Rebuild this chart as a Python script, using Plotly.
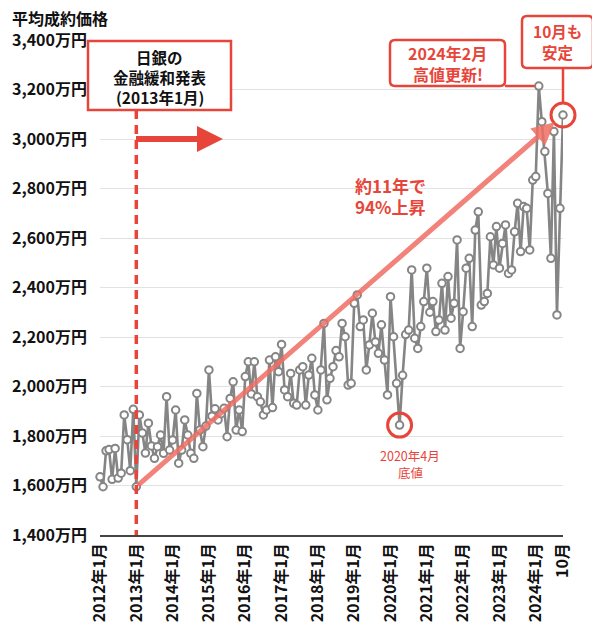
import plotly.graph_objects as go

# ---------------- data ----------------
tick_labels = ["2012年1月", "2013年1月", "2014年1月", "2015年1月", "2016年1月",
               "2017年1月", "2018年1月", "2019年1月", "2020年1月", "2021年1月",
               "2022年1月", "2023年1月", "2024年1月", "10月"]
tick_index = [0, 12, 24, 36, 48, 60, 72, 84, 96, 108, 120, 132, 144, 153]

y_ticks = [1400, 1600, 1800, 2000, 2200, 2400, 2600, 2800, 3000, 3200, 3400]
y_tick_text = [f"{v:,}万円" for v in y_ticks]

p2012 = [1635, 1595, 1740, 1745, 1625, 1750, 1630, 1650, 1885, 1785, 1660, 1908]
p2013 = [1595, 1885, 1812, 1731, 1852, 1760, 1710, 1757, 1804, 1730, 1959, 1743]
p2014 = [1784, 1905, 1690, 1743, 1865, 1804, 1730, 1710, 1972, 1824, 1757, 1840]
p2015 = [2067, 1880, 1910, 1865, 1890, 1912, 1797, 1952, 2019, 1824, 1905, 1818]
p2016 = [2040, 2100, 1970, 2100, 1959, 1938, 1885, 1905, 2107, 1915, 2120, 2060]
p2017 = [2170, 1986, 1959, 2053, 1932, 1925, 2067, 2080, 1925, 2046, 2114, 1966]
p2018 = [1905, 2067, 2255, 1946, 2033, 2080, 2145, 2120, 2255, 2201, 2006, 2013]
p2019 = [2336, 2370, 2242, 2269, 2067, 2168, 2296, 2180, 2134, 2249, 2107, 1966]
p2020 = [2363, 2201, 2013, 1844, 2045, 2210, 2228, 2471, 2195, 2154, 2242, 2343]
p2021 = [2478, 2300, 2343, 2222, 2269, 2417, 2228, 2444, 2276, 2336, 2592, 2154]
p2022 = [2302, 2478, 2518, 2242, 2632, 2706, 2329, 2343, 2376, 2605, 2491, 2646]
p2023 = [2478, 2578, 2653, 2457, 2471, 2625, 2740, 2545, 2727, 2720, 2552, 2834]
p2024 = [2848, 3214, 3070, 2949, 2780, 2518, 3030, 2289, 2720, 3097]

prices = p2012 + p2013 + p2014 + p2015 + p2016 + p2017 + p2018 + p2019 + \
    p2020 + p2021 + p2022 + p2023 + p2024
months = list(range(len(prices)))

i_boj = 12       # 2013年1月
i_low = 99       # 2020年4月
i_high = 145     # 2024年2月
i_last = len(prices) - 1   # 2024年10月

# ---------------- layout helpers ----------------
# page has an 8px body margin; figure is sized so page coords match the reference
OFF = 8
W, H = 600 - 2 * OFF, 637 - 2 * OFF
L_REF, T_REF, PW, PH = 100, 40, 463, 495
L, T = L_REF - OFF, T_REF - OFF
XMAX = i_last
RED = "#e8453a"
GRAY = "#858585"
FONT = "Noto Sans CJK JP"


def ppx(px):
    return (px - L_REF) / PW


def ppy(py):
    return (T_REF + PH - py) / PH


def dx(i):
    return i / XMAX


def dy(v):
    return (v - 1400) / 2000


def pt(px, py):
    return f"{ppx(px):.5f},{ppy(py):.5f}"


def rrect(x0, y0, x1, y1, r):
    return ("M " + pt(x0 + r, y0) + " L " + pt(x1 - r, y0) +
            " Q " + pt(x1, y0) + " " + pt(x1, y0 + r) +
            " L " + pt(x1, y1 - r) +
            " Q " + pt(x1, y1) + " " + pt(x1 - r, y1) +
            " L " + pt(x0 + r, y1) +
            " Q " + pt(x0, y1) + " " + pt(x0, y1 - r) +
            " L " + pt(x0, y0 + r) +
            " Q " + pt(x0, y0) + " " + pt(x0 + r, y0) + " Z")


fig = go.Figure()

fig.add_trace(go.Scatter(
    x=months, y=prices, mode="lines+markers",
    line=dict(color=GRAY, width=2.6),
    marker=dict(size=7.5, color="white", line=dict(color=GRAY, width=2)),
    cliponaxis=False, hoverinfo="skip", showlegend=False))

shapes = []
# dashed vertical line at 2013-01
shapes.append(dict(type="line", xref="paper", yref="paper",
                   x0=dx(i_boj), x1=dx(i_boj), y0=ppy(110), y1=0,
                   line=dict(color=RED, width=3.5, dash="9px,6px"), layer="above"))
# BOJ box
shapes.append(dict(type="rect", xref="paper", yref="paper",
                   x0=ppx(88), x1=ppx(231), y0=ppy(41), y1=ppy(110),
                   fillcolor="white", line=dict(color=RED, width=2.5), layer="above"))
# red arrow to the right
arrow_path = ("M " + pt(136, 136) + " L " + pt(197, 136) + " L " + pt(197, 126) +
              " L " + pt(223, 139) + " L " + pt(197, 152) + " L " + pt(197, 142) +
              " L " + pt(136, 142) + " Z")
shapes.append(dict(type="path", xref="paper", yref="paper", path=arrow_path,
                   fillcolor=RED, line=dict(width=0), layer="above"))
# circles around low and last point
for idx in (i_low, i_last):
    shapes.append(dict(type="circle", xref="paper", yref="paper",
                       xsizemode="pixel", ysizemode="pixel",
                       xanchor=dx(idx), yanchor=dy(prices[idx]),
                       x0=-12, x1=12, y0=-12, y1=12,
                       line=dict(color=RED, width=3), layer="above"))
# 2024-02 callout box + pointer
shapes.append(dict(type="path", xref="paper", yref="paper",
                   path=rrect(390, 40, 505, 86, 5),
                   fillcolor="white", line=dict(color=RED, width=2.5), layer="above"))
shapes.append(dict(type="line", xref="paper", yref="paper",
                   x0=ppx(505), y0=ppy(86), x1=dx(i_high) - 4 / PW, y1=dy(prices[i_high]),
                   line=dict(color=RED, width=2.5), layer="above"))
# 10月 callout box + pointer
shapes.append(dict(type="path", xref="paper", yref="paper",
                   path=rrect(522, 16, 593, 68, 5),
                   fillcolor="white", line=dict(color=RED, width=2.5), layer="above"))
shapes.append(dict(type="line", xref="paper", yref="paper",
                   x0=dx(i_last), y0=ppy(68), x1=dx(i_last), y1=dy(prices[i_last]) + 12 / PH,
                   line=dict(color=RED, width=2.5), layer="above"))

annotations = []
# trend arrow from 2013-01 to 2024-10
annotations.append(dict(x=i_last, y=prices[i_last], xref="x", yref="y",
                        ax=i_boj, ay=prices[i_boj], axref="x", ayref="y",
                        text="", showarrow=True, arrowhead=2, arrowsize=0.9,
                        arrowwidth=5, arrowcolor="rgba(240,110,100,0.85)",
                        standoff=11))


def add_lines(lines, cx, ys, size, color, bold=True):
    for txt, y in zip(lines, ys):
        annotations.append(dict(
            x=ppx(cx), y=ppy(y), xref="paper", yref="paper",
            xanchor="center", yanchor="middle", showarrow=False,
            text=f"<b>{txt}</b>" if bold else txt,
            font=dict(family=FONT, size=size, color=color)))


annotations.append(dict(x=ppx(10), y=ppy(17.5), xref="paper", yref="paper",
                        xanchor="left", yanchor="middle", showarrow=False,
                        text="<b>平均成約価格</b>",
                        font=dict(family=FONT, size=16, color="#111")))
add_lines(["日銀の", "金融緩和発表", "(2013年1月)"], 159.5, [57, 77, 97], 15.5, "#111")
add_lines(["2024年2月", "高値更新!"], 447.5, [53, 74], 16, RED)
add_lines(["10月も", "安定"], 557.5, [31, 52], 15.5, RED)
add_lines(["約11年で", "94%上昇"], 390, [185, 206], 17, RED)
add_lines(["2020年4月", "底値"], 410, [455, 472], 12.5, RED, bold=False)

fig.update_layout(
    width=W, height=H,
    margin=dict(l=L, r=W - L - PW, t=T, b=H - T - PH, pad=0),
    paper_bgcolor="white", plot_bgcolor="white",
    font=dict(family=FONT),
    shapes=shapes, annotations=annotations,
    xaxis=dict(range=[0, XMAX], tickvals=tick_index, ticktext=tick_labels,
               tickangle=-90, ticks="", showgrid=False, zeroline=False,
               automargin=False,
               showline=True, linecolor="#444", linewidth=1.5,
               tickfont=dict(family=FONT, size=16, color="#111", weight="bold")),
    yaxis=dict(range=[1400, 3400], tickvals=y_ticks, ticktext=y_tick_text,
               ticks="", showgrid=True, gridcolor="#e2e2e2", gridwidth=1,
               automargin=False,
               zeroline=False, showline=False, ticklabelstandoff=12,
               tickfont=dict(family=FONT, size=16, color="#111", weight="bold")),
)

fig.write_html("out.html")
